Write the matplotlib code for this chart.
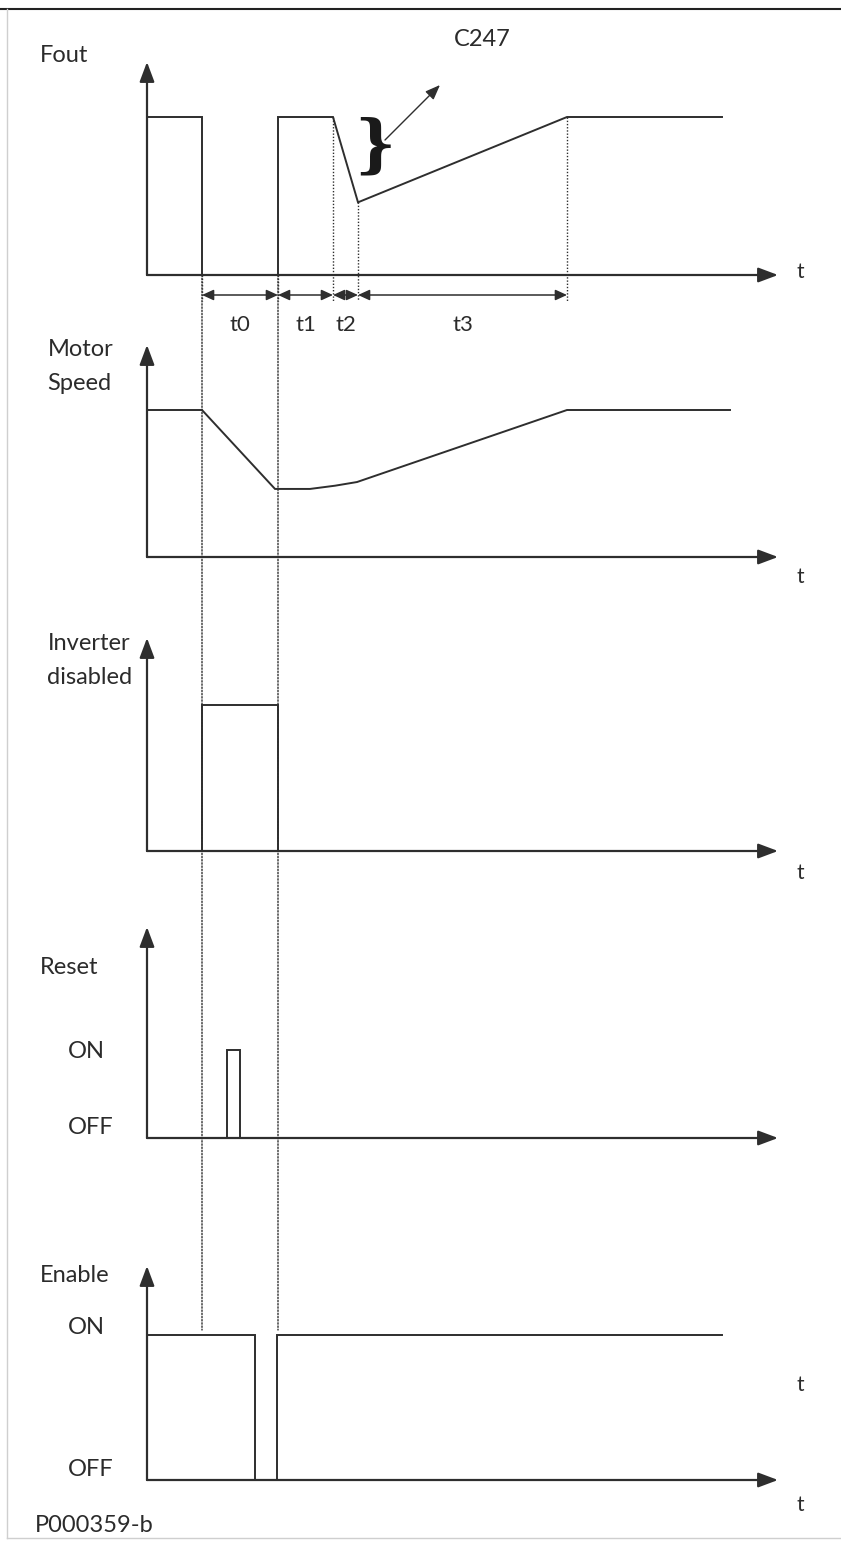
import matplotlib
matplotlib.use("Agg")
import matplotlib.pyplot as plt
from matplotlib.patches import ConnectionPatch, ArrowStyle
from matplotlib.lines import Line2D

# ---------------------------------------------------------------------------
# Signals (time in arbitrary units, levels normalised: 0 = OFF/zero, 1 = ON/nominal)
# ---------------------------------------------------------------------------
T_END = 63.1

fout_t = [0, 5.5, 5.5, 13.1, 13.1, 18.6, 21.1, 42.0, 57.5]
fout_v = [1, 1, 0, 0, 1, 1, 0.46, 1, 1]

speed_t = [0, 5.5, 12.8, 16.3, 18.8, 21.0, 42.0, 58.3]
speed_v = [1, 1, 0.463, 0.463, 0.485, 0.51, 1, 1]

inv_t = [5.5, 5.5, 13.1, 13.1]
inv_v = [0, 1, 1, 0]

reset_t = [8.0, 8.0, 9.3, 9.3]
reset_v = [0, 1, 1, 0]

enable_t = [0, 10.8, 10.8, 13.0, 13.0, 57.5]
enable_v = [1, 1, 0, 0, 1, 1]

# trip instant and restart instant (shared by all traces)
event_times = [5.5, 13.1]

# boundaries of the t0..t3 intervals
interval_edges = [5.5, 13.1, 18.6, 21.1, 42.0]
interval_labels = ["t0", "t1", "t2", "t3"]

# ---------------------------------------------------------------------------
# Layout (pixels of the 841 x 1541 canvas)
# ---------------------------------------------------------------------------
W, H, DPI = 841, 1541, 100
X0, X1 = 147, 778
# (baseline, nominal level, arrow tip of the vertical axis)
panels = [
    (275, 117, 62),
    (557, 410, 345),
    (851, 705, 638),
    (1138, 1050, 927),
    (1480, 1335, 1266),
]

LINE_C = "#2e2e2e"
TEXT_C = "#2b2b2b"
FONT = ["Lato", "DejaVu Sans"]
TEXT_KW = dict(color=TEXT_C, family=FONT, fontweight="normal")

fig = plt.figure(figsize=(W / DPI, H / DPI), dpi=DPI)
fig.patch.set_facecolor("white")


def fx(px):
    return px / W


def fy(py):
    return 1 - py / H


axis_head = ArrowStyle("-|>", head_length=12, head_width=4.5)


def make_axes(base, high, tip):
    ax = fig.add_axes([fx(X0), fy(base), (X1 - X0) / W, (base - tip) / H])
    ax.set_xlim(0, T_END)
    ax.set_ylim(0, (base - tip) / (base - high))
    ax.axis("off")
    for end in [(1, 0), (0, 1)]:
        ax.annotate("", xy=end, xytext=(0, 0), xycoords="axes fraction",
                    arrowprops=dict(arrowstyle=axis_head, mutation_scale=1,
                                    color=LINE_C, lw=1.6, shrinkA=0, shrinkB=0))
    return ax


axes = [make_axes(*p) for p in panels]
ax_f, ax_s, ax_i, ax_r, ax_e = axes

sig_kw = dict(color=LINE_C, lw=1.4, clip_on=False, solid_joinstyle="miter")
ax_f.plot(fout_t, fout_v, **sig_kw)
ax_s.plot(speed_t, speed_v, **sig_kw)
ax_i.plot(inv_t, inv_v, **sig_kw)
ax_r.plot(reset_t, reset_v, **sig_kw)
ax_e.plot(enable_t, enable_v, **sig_kw)

dot_style = (0, (1.0, 1.3))

# vertical guides through all traces at trip and restart
e_base, e_high, _ = panels[4]
enable_guide_end = 1 + 5 / (e_base - e_high)
for t in event_times:
    con = ConnectionPatch(xyA=(t, 0), coordsA=ax_f.transData,
                          xyB=(t, enable_guide_end), coordsB=ax_e.transData,
                          color=LINE_C, lw=1.0, linestyle=dot_style)
    fig.add_artist(con)

# interval dimensioning below the Fout trace
f_base, f_high, _ = panels[0]
unit = f_base - f_high
y_dim = -(295 - f_base) / unit
y_guide_end = -(301 - f_base) / unit
y_lab = -(325 - f_base) / unit

for t in interval_edges[2:]:
    top = fout_v[fout_t.index(t)]
    ax_f.plot([t, t], [top, y_guide_end], color=LINE_C, lw=1.0,
              linestyle=dot_style, clip_on=False)
for t in interval_edges[:2]:
    ax_f.plot([t, t], [0, y_guide_end], color=LINE_C, lw=1.0,
              linestyle=dot_style, clip_on=False)

dim_head = ArrowStyle("<|-|>", head_length=7, head_width=3.2)
for a, b, lab in zip(interval_edges[:-1], interval_edges[1:], interval_labels):
    ax_f.annotate("", xy=(b, y_dim), xytext=(a, y_dim), xycoords="data",
                  arrowprops=dict(arrowstyle=dim_head, mutation_scale=1,
                                  color=LINE_C, lw=1.1, shrinkA=0, shrinkB=0),
                  annotation_clip=False)
    ax_f.text((a + b) / 2, y_lab, lab, ha="center", va="center",
              fontsize=16, clip_on=False, **TEXT_KW)

# C247 ramp annotation
ax_f.text(22.8, (f_base - 147) / unit, "}", ha="center", va="center",
          fontsize=46, family="DejaVu Serif", fontweight="bold",
          color="#1a1a1a", clip_on=False)
ax_f.annotate("", xy=(29.3, (f_base - 85) / unit),
              xytext=(23.8, (f_base - 140) / unit), xycoords="data",
              arrowprops=dict(arrowstyle=ArrowStyle("-|>", head_length=9, head_width=3.5),
                              mutation_scale=1, color=LINE_C, lw=1.0,
                              shrinkA=0, shrinkB=0),
              annotation_clip=False)
ax_f.text(33.5, (f_base - 40) / unit, "C247", ha="center", va="center",
          fontsize=17, clip_on=False, **TEXT_KW)

# trace names and level labels
labels = [
    ("Fout", 40, 55),
    ("Motor", 48, 350), ("Speed", 47, 383),
    ("Inverter", 48, 643), ("disabled", 47, 677),
    ("Reset", 40, 967), ("ON", 68, 1051), ("OFF", 68, 1127),
    ("Enable", 40, 1276), ("ON", 68, 1328), ("OFF", 68, 1470),
    ("P000359-b", 35, 1525),
]
for s, x, y in labels:
    fig.text(fx(x), fy(y), s, ha="left", va="center", fontsize=17, **TEXT_KW)

for y in [272, 577, 873, 1385, 1505]:
    fig.text(fx(800), fy(y), "t", ha="center", va="center", fontsize=15,
             **TEXT_KW)

# page frame
fig.add_artist(Line2D([0, 1], [fy(9), fy(9)], color="#222222", lw=1.5))
fig.add_artist(Line2D([fx(7), fx(7)], [fy(9), fy(1538)], color="#cfcfcf", lw=1.0))
fig.add_artist(Line2D([fx(7), 1], [fy(1538), fy(1538)], color="#cfcfcf", lw=1.0))

fig.savefig("out.png", dpi=DPI, facecolor="white")
